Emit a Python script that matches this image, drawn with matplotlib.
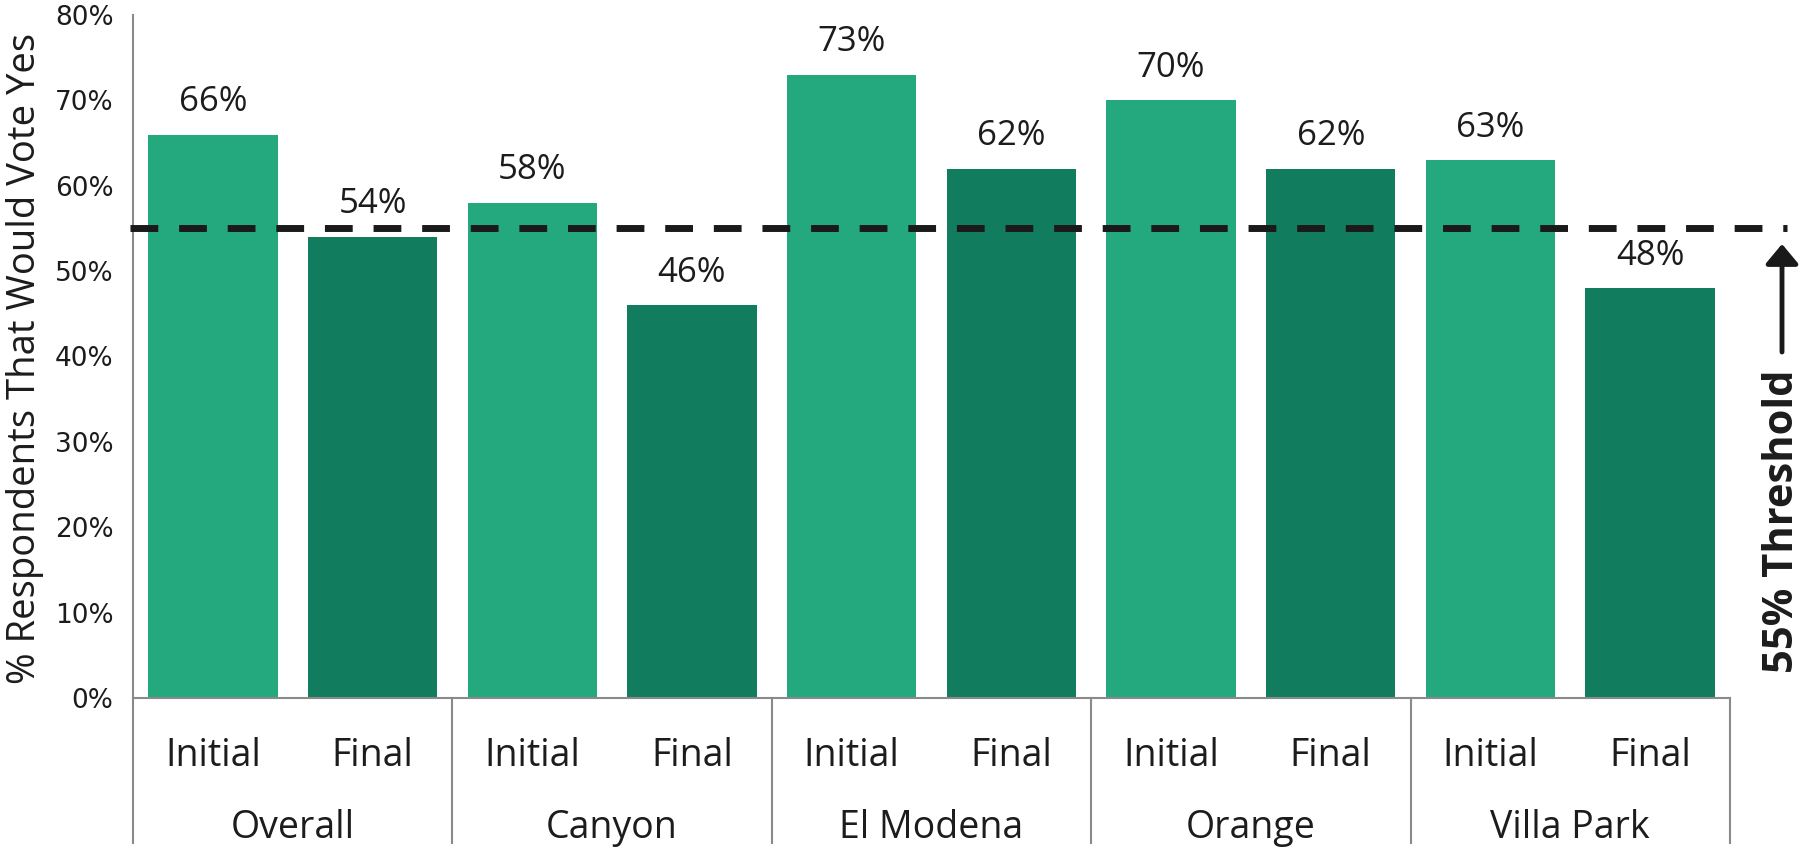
import matplotlib
matplotlib.use("Agg")
import matplotlib.pyplot as plt
from matplotlib.patches import ArrowStyle

# Survey results: share of respondents who would vote yes
groups = ["Overall", "Canyon", "El Modena", "Orange", "Villa Park"]
stages = ["Initial", "Final"]
initial_pct = [66, 58, 73, 70, 63]
final_pct = [54, 46, 62, 62, 48]
threshold_pct = 55
y_ticks = [0, 10, 20, 30, 40, 50, 60, 70, 80]

initial_color = "#24A87D"
final_color = "#127D5E"
text_color = "#1c1c1c"
rule_color = "#8a8a8a"

W, H, DPI = 1801, 851, 100
fig = plt.figure(figsize=(W / DPI, H / DPI), dpi=DPI)
ax = fig.add_axes([133 / W, 1 - 698 / H, 1597 / W, 683 / H])

# interleave initial/final values into one sequence of slots
values, colors, stage_labels = [], [], []
for ini, fin in zip(initial_pct, final_pct):
    values += [ini, fin]
    colors += [initial_color, final_color]
    stage_labels += stages
xs = list(range(len(values)))

bars = ax.bar(xs, values, width=0.81, color=colors, zorder=2)
for x, v in zip(xs, values):
    ax.annotate(f"{v}%", (x, v), xytext=(0, 17), textcoords="offset points",
                ha="center", va="baseline", fontsize=25, family="Open Sans",
                color=text_color)

ax.set_xlim(-0.5, len(values) - 0.5)
ax.set_ylim(0, 80)
ax.set_yticks(y_ticks)
ax.set_yticklabels([f"{t}%" for t in y_ticks], fontsize=19, color=text_color,
                   family="DejaVu Sans")
ax.tick_params(axis="y", length=0, pad=14)
ax.set_xticks([])

for s in ["top", "right", "left"]:
    ax.spines[s].set_visible(False)
ax.spines["bottom"].set_color(rule_color)
ax.spines["bottom"].set_linewidth(1.5)

# category table under the axis
xt = ax.get_xaxis_transform()
table_bottom = -0.2123
for k in range(len(groups) + 1):
    xb = -0.5 + 2 * k
    top = 1.0 if k == 0 else 0.0
    ax.plot([xb, xb], [table_bottom, top], transform=xt, color=rule_color,
            lw=1.5, clip_on=False, zorder=3)
for x, lab in zip(xs, stage_labels):
    ax.text(x, -0.0996, lab, transform=xt, ha="center", va="baseline",
            fontsize=27, family="Open Sans", color=text_color)
for g, name in enumerate(groups):
    ax.text(2 * g + 0.5, -0.205, name, transform=xt, ha="center",
            va="baseline", fontsize=27, family="Open Sans", color=text_color)

# threshold line extends past the table edge
ax.plot([-0.52, 9.86], [threshold_pct, threshold_pct], color="#1a1a1a",
        lw=5, linestyle=(0, (4.0, 3.0)), clip_on=False, zorder=4)

fig.text(25 / W, 1 - 358 / H, "% Respondents That Would Vote Yes",
         rotation=90, ha="center", va="center", fontsize=27.5,
         family="Open Sans", color=text_color)

fig.text(1782 / W, 1 - 521 / H, "55% Threshold", rotation=90,
         ha="center", va="center", fontsize=30, fontweight="bold",
         family="Open Sans", color=text_color)
ax.annotate("", xy=(1782, H - 244), xycoords="figure pixels",
            xytext=(1782, H - 352), textcoords="figure pixels",
            arrowprops=dict(arrowstyle=ArrowStyle("-|>", head_length=12,
                                                  head_width=10),
                            mutation_scale=1, lw=3.5, color="#1a1a1a",
                            shrinkA=0, shrinkB=0))

fig.savefig("out.png", dpi=DPI, facecolor="white")
